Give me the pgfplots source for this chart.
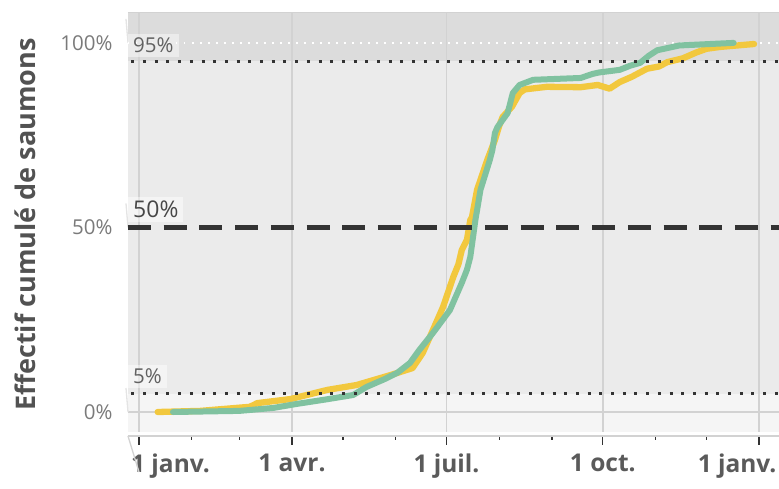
\documentclass[border=0pt]{standalone}
\usepackage{pgfplots}
\pgfplotsset{compat=1.18}
\usepackage{fontspec}
\setmainfont{Open Sans}
\definecolor{bandtop}{HTML}{DCDCDC}
\definecolor{bandmid}{HTML}{EBEBEB}
\definecolor{bandlow}{HTML}{F5F5F5}
\definecolor{gridc}{HTML}{D2D2D2}
\definecolor{yel}{HTML}{F2C83E}
\definecolor{grn}{HTML}{80C2A0}
\definecolor{ticklab}{HTML}{7A7A7A}
\definecolor{xlab}{HTML}{5A5A5A}
\definecolor{reflc}{HTML}{333333}
\pgfplotstableread{
x y
11 0
36 0.3
65 1.4
68 2.0
69.5 2.4
89 3.5
111 6.0
128 7.3
148 10.0
161 11.9
167 16.0
173 22.2
179 28.5
185 36.6
188 40.0
190 43.9
193 46.6
195 52.0
196 52.8
199 60.2
205 68.3
209.5 73.7
212 77.5
214 79.9
219.5 82.7
224 86.4
227 87.4
240 88.1
260 88.0
270 88.6
277 87.6
283 89.4
290 90.8
299 93.0
306 93.6
311 94.8
320 95.8
328 97.4
334 98.4
342 98.9
362 99.7
}\yellowdata
\pgfplotstableread{
x y
20 0
59 0.3
79 1.1
93 2.2
110 3.4
126 4.6
134 6.8
145 9.0
152 10.6
159.5 13.3
165 16.8
173 21.4
183 27.6
190 35.0
193 38.5
195 42.0
198 52.0
201 60.2
206.5 68.3
208 71.0
209.5 75.6
211 77.2
217 81.0
220 86.4
224 88.6
232 90.0
260 90.5
267 91.6
271 92.0
283 92.7
289 93.8
295 94.6
300 96.5
305 98.0
318 99.3
350 100
}\greendata
\begin{document}
\begin{tikzpicture}
\useasboundingbox (-128pt,-53pt) rectangle (651pt,436pt);
\begin{axis}[
  at={(0,0)}, anchor=south west,
  scale only axis, width=651pt, height=423pt,
  xmin=-6.47, xmax=376.7, ymin=-6.5, ymax=108.1,
  axis line style={draw=none},
  tick align=outside,
  xtick pos=left, ytick pos=left,
  xtick={0,90,181,273,365},
  xticklabels={1 janv.\hspace*{-63pt},1 avr.,1 juil.,1 oct.,\hspace*{-44pt}1 janv.},
  minor xtick={31,59,120,151,212,243,304,334},
  major tick length=9pt, minor tick length=4pt,
  xtick style={draw=reflc, line width=1.3pt},
  every minor tick/.append style={draw=gridc!70!black, line width=1pt},
  ytick={0,50,100},
  yticklabels={0\%,50\%,100\%},
  ytick style={draw=none},
  xticklabel style={font=\fontsize{24.5}{26}\selectfont\bfseries, text=xlab, yshift=-5pt},
  yticklabel style={font=\fontsize{20.5}{24}\selectfont, text=ticklab, xshift=-3pt},
  ylabel={Effectif cumulé de saumons},
  ylabel style={at={(axis description cs:-0.158,0.5)}, anchor=center, font=\fontsize{27}{30}\selectfont\bfseries, text=reflc!85!white},
  clip=false,
]
% background bands
\fill[bandlow] (axis cs:-6.47,-5.4) rectangle (axis cs:376.7,5);
\fill[bandmid] (axis cs:-6.47,5) rectangle (axis cs:376.7,95);
\fill[bandtop] (axis cs:-6.47,95) rectangle (axis cs:376.7,108.1);
\draw[gridc, line width=1pt] (axis cs:-6.47,108.1) -- (axis cs:376.7,108.1);
% grid
\draw[gridc, line width=1.5pt] (axis cs:0,-5.4) -- (axis cs:0,108.1);
\draw[gridc, line width=1.5pt] (axis cs:90,-5.4) -- (axis cs:90,108.1);
\draw[gridc, line width=1.5pt] (axis cs:181,-5.4) -- (axis cs:181,108.1);
\draw[gridc, line width=1.5pt] (axis cs:273,-5.4) -- (axis cs:273,108.1);
\draw[gridc, line width=1.5pt] (axis cs:365,-5.4) -- (axis cs:365,108.1);
\draw[gridc, line width=1.5pt] (axis cs:-6.47,0) -- (axis cs:376.7,0);
% y ticks
\draw[gridc!60!white, line width=1.3pt] (axis cs:-6.47,0) -- ++(-13pt,0);
\draw[gridc!60!white, line width=1.3pt] (axis cs:-6.47,50) -- ++(-13pt,0);
\draw[gridc!60!white, line width=1.3pt] (axis cs:-6.47,100) -- ++(-13pt,0);
% bottom axis line and left stub
\draw[gridc, line width=1.3pt] (rel axis cs:0,0) -- (rel axis cs:1,0);
\draw[gridc, line width=1.3pt] (rel axis cs:0,0) -- ++(0,-60pt);
% white dotted 100%
\addplot[white, line width=1.5pt, dash pattern=on 1.5pt off 6.5pt] coordinates {(-6.47,100) (376.7,100)};
% series
\addplot[yel, line width=6.3pt, line join=round, line cap=round] table[x=x,y=y] {\yellowdata};
\addplot[grn, line width=6pt, line join=round, line cap=round] table[x=x,y=y] {\greendata};
% reference lines
\addplot[reflc, line width=3pt, dash pattern=on 3pt off 8.7pt] coordinates {(-4.5,95) (376.7,95)};
\addplot[reflc, line width=3pt, dash pattern=on 3pt off 8.7pt] coordinates {(-4.5,5) (376.7,5)};
\addplot[reflc, line width=5pt, dash pattern=on 23pt off 12.7pt] coordinates {(-6.47,50) (376.7,50)};
% labels
\node[anchor=south west, fill=white, fill opacity=0.45, text opacity=1, text=ticklab!80!black, inner xsep=5pt, inner ysep=4pt, font=\fontsize{20.5}{22}\selectfont] at (axis cs:-6.47,96.2) {95\%};
\node[anchor=south west, fill=white, fill opacity=0.45, text opacity=1, text=reflc!90!white, inner xsep=5pt, inner ysep=4pt, font=\fontsize{23}{24}\selectfont] at (axis cs:-6.47,51.5) {50\%};
\node[anchor=south west, fill=white, fill opacity=0.45, text opacity=1, text=ticklab!80!black, inner xsep=5pt, inner ysep=4pt, font=\fontsize{20.5}{22}\selectfont] at (axis cs:-6.47,6.5) {5\%};
\end{axis}
\end{tikzpicture}
\end{document}
